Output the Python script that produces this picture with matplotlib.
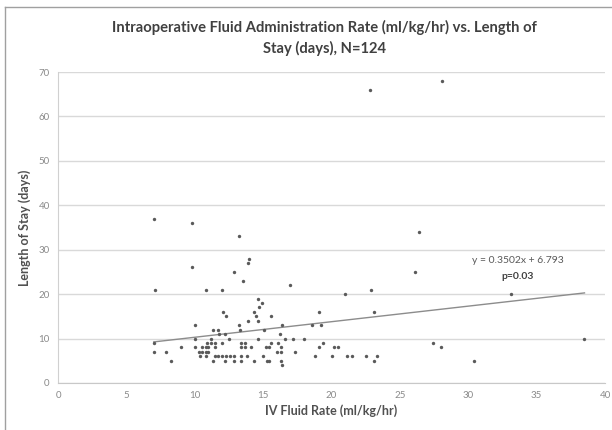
import matplotlib.pyplot as plt
import numpy as np

# IV fluid rate (ml/kg/hr) and length of stay (days) per patient
fluid_rate = [
    7.0, 9.8, 13.2, 14.0, 13.9, 9.8, 12.9, 13.5, 7.1, 10.8, 12.0, 17.0,
    14.6, 14.9, 14.7, 22.8, 28.1, 26.4, 26.1, 21.0, 22.9, 23.1, 33.1,
    27.4, 28.0, 30.4, 38.5,
    12.1, 14.3, 19.1, 12.3, 14.5, 15.6, 13.9, 14.6, 10.0, 13.2, 16.4,
    18.6, 19.2, 11.3, 11.7, 13.3, 15.1, 11.8, 12.2, 16.2,
    10.0, 11.2, 12.5, 14.6, 16.6, 17.2, 18.0,
    7.0, 10.9, 11.2, 11.5, 12.0, 13.4, 13.7, 15.6, 16.1, 19.4,
    9.0, 10.0, 10.5, 10.8, 11.0, 11.5, 13.4, 13.7, 14.1, 15.2, 15.4,
    16.3, 19.1, 20.2, 20.5,
    7.0, 7.9, 10.3, 10.55, 10.8, 11.0, 16.0, 16.3, 17.3,
    10.4, 10.8, 11.5, 11.7, 12.0, 12.3, 12.6, 12.9, 13.4, 13.8, 15.0,
    18.8, 20.0, 21.1, 21.5, 22.5, 23.3,
    8.25, 11.3, 12.2, 12.9, 13.4, 14.3, 15.3, 15.45, 16.3, 23.1,
    16.4,
]
length_of_stay = [
    37, 36, 33, 28, 27, 26, 25, 23, 21, 21, 21, 22,
    19, 18, 17, 66, 68, 34, 25, 20, 21, 16, 20,
    9, 8, 5, 10,
    16, 16, 16, 15, 15, 15, 14, 14, 13, 13, 13,
    13, 13, 12, 12, 12, 12, 11, 11, 11,
    10, 10, 10, 10, 10, 10, 10,
    9, 9, 9, 9, 9, 9, 9, 9, 9, 9,
    8, 8, 8, 8, 8, 8, 8, 8, 8, 8, 8,
    8, 8, 8, 8,
    7, 7, 7, 7, 7, 7, 7, 7, 7,
    6, 6, 6, 6, 6, 6, 6, 6, 6, 6, 6,
    6, 6, 6, 6, 6, 6,
    5, 5, 5, 5, 5, 5, 5, 5, 5, 5,
    4,
]

# linear trendline
slope = 0.3502
intercept = 6.793

plt.rcParams['font.family'] = ['Lato', 'DejaVu Sans']

fig = plt.figure(figsize=(6.12, 4.3), dpi=100)
ax = fig.add_axes([58 / 612, 1 - 383 / 430, 547 / 612, 311 / 430])

ax.scatter(fluid_rate, length_of_stay, s=6, color='#5a5a5a', zorder=3, linewidths=0)

x_fit = np.array([min(fluid_rate), max(fluid_rate)])
ax.plot(x_fit, slope * x_fit + intercept, color='#8c8c8c', lw=1, zorder=2)

ax.text(33.6, 27.5, 'y = 0.3502x + 6.793', ha='center', va='center',
        fontsize=7.5, color='#595959')
ax.text(33.6, 23.9, 'p=0.03', ha='center', va='center', fontsize=7.5,
        fontweight='bold', color='#404040')

ax.set_xlim(0, 40)
ax.set_ylim(0, 70)
ax.set_xticks(range(0, 41, 5))
ax.set_yticks(range(0, 71, 10))
ax.yaxis.grid(True, color='#d9d9d9', lw=1)
ax.set_axisbelow(True)
ax.tick_params(length=0, labelsize=7, colors='#8a8a8a', pad=6)

for side in ['top', 'right']:
    ax.spines[side].set_visible(False)
ax.spines['left'].set_color('#d0d0d0')
ax.spines['bottom'].set_color('#c8c8c8')

ax.set_xlabel('IV Fluid Rate (ml/kg/hr)', fontsize=9, fontweight='bold',
              color='#505050', labelpad=3)
ax.set_ylabel('Length of Stay (days)', fontsize=9, fontweight='bold',
              color='#505050', labelpad=5)

fig.text(0.53, 0.912, 'Intraoperative Fluid Administration Rate (ml/kg/hr) vs. Length of\nStay (days), N=124',
         ha='center', va='center', fontsize=10.6, fontweight='bold',
         color='#404040', linespacing=1.45)

# chart frame
fig.add_artist(plt.Line2D([5 / 612, 1], [1 - 7 / 430, 1 - 7 / 430],
                          transform=fig.transFigure, color='#a0a0a0', lw=1))
fig.add_artist(plt.Line2D([5 / 612, 5 / 612], [0, 1 - 7 / 430],
                          transform=fig.transFigure, color='#a0a0a0', lw=1))

fig.savefig('out.png', dpi=100)
